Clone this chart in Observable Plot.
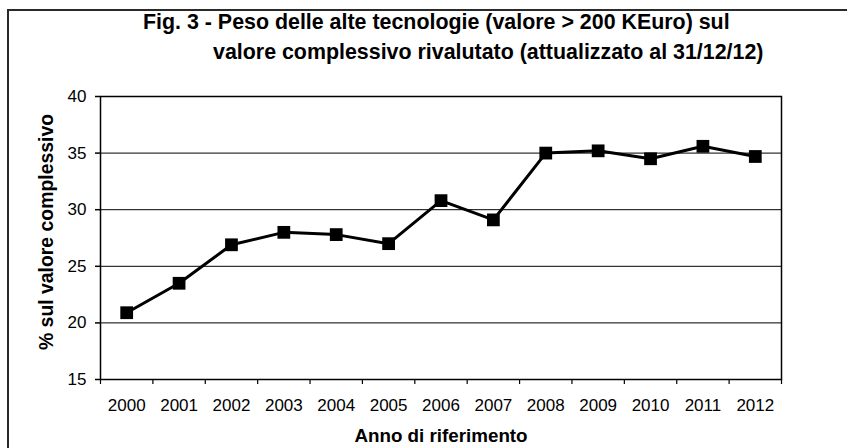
<!DOCTYPE html>
<html>
<head>
<meta charset="utf-8">
<script src="https://cdn.jsdelivr.net/npm/d3@7"></script>
<script src="https://cdn.jsdelivr.net/npm/@observablehq/plot@0.6"></script>
<style>
  html, body { margin: 0; padding: 0; background: #fff; overflow: hidden; }
  #wrap { position: relative; width: 847px; height: 448px; overflow: hidden; font-family: "Liberation Sans", Arial, sans-serif; }
  #border { position: absolute; left: 7px; top: 9px; width: 900px; height: 500px; border: 2px solid #2a2a2a; box-sizing: border-box; }
  .title { position: absolute; font-weight: bold; font-size: 21.4px; white-space: nowrap; color: #000; line-height: 1; }
  #t1 { left: 143px; top: 12px; }
  #t2 { left: 213px; top: 42px; }
  #ylab { position: absolute; left: 47px; top: 232px; font-weight: bold; font-size: 19.4px; white-space: nowrap; transform: translate(-50%, -50%) rotate(-90deg); line-height: 1; }
  #xlab { position: absolute; left: 441px; top: 436px; font-weight: bold; font-size: 18.8px; white-space: nowrap; transform: translate(-50%, -50%); line-height: 1; }
  #chart { position: absolute; left: 0; top: 0; }
</style>
</head>
<body>
<div id="wrap">
  <div id="border"></div>
  <div id="chart"></div>
  <div class="title" id="t1">Fig. 3 - Peso delle alte tecnologie (valore &gt; 200 KEuro) sul</div>
  <div class="title" id="t2">valore complessivo rivalutato (attualizzato al 31/12/12)</div>
  <div id="ylab">% sul valore complessivo</div>
  <div id="xlab">Anno di riferimento</div>
</div>
<script>
const years = [2000, 2001, 2002, 2003, 2004, 2005, 2006, 2007, 2008, 2009, 2010, 2011, 2012];
const values = [20.9, 23.5, 26.9, 28.0, 27.8, 27.0, 30.8, 29.1, 35.0, 35.2, 34.5, 35.6, 34.7];
const yTicks = [15, 20, 25, 30, 35, 40];
const gridValues = [20, 25, 30, 35];

const data = years.map((year, i) => ({year, value: values[i]}));
const boundaries = [...years.map(y => y - 0.5), years[years.length - 1] + 0.5];

const chart = Plot.plot({
  width: 847,
  height: 448,
  marginTop: 96,
  marginLeft: 100,
  marginRight: 66,
  marginBottom: 69,
  style: {fontFamily: "'Liberation Sans', Arial, sans-serif", fontSize: "17px", color: "#000", background: "transparent", overflow: "visible"},
  x: {type: "linear", domain: [boundaries[0], boundaries[boundaries.length - 1]]},
  y: {domain: [15, 40]},
  marks: [
    Plot.gridY(gridValues, {stroke: "#000", strokeOpacity: 1, strokeWidth: 1}),
    Plot.frame({stroke: "#000", strokeWidth: 1.5}),
    Plot.axisY(yTicks, {tickSize: 5, tickPadding: 9, label: null, strokeWidth: 1.5}),
    Plot.axisX(boundaries, {tickSize: 5, tickFormat: () => "", label: null, strokeWidth: 1.2}),
    Plot.axisX(years, {tickSize: 0, tickPadding: 19, tickFormat: d => String(d), label: null}),
    Plot.line(data, {x: "year", y: "value", stroke: "#000", strokeWidth: 3}),
    Plot.dot(data, {x: "year", y: "value", symbol: "square", r: 7.2, fill: "#000", stroke: "none"})
  ]
});
document.getElementById("chart").appendChild(chart);
</script>
</body>
</html>
